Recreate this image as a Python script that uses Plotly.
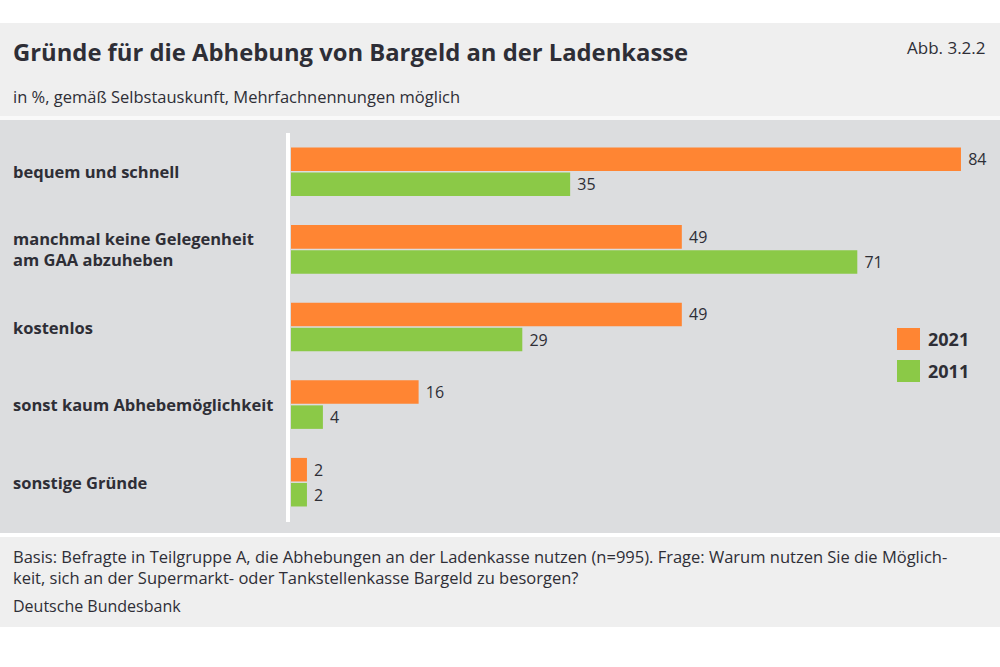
import plotly.graph_objects as go

categories = [
    "bequem und schnell",
    "manchmal keine Gelegenheit<br>am GAA abzuheben",
    "kostenlos",
    "sonst kaum Abhebemöglichkeit",
    "sonstige Gründe",
]
values_2021 = [84, 49, 49, 16, 2]
values_2011 = [35, 71, 29, 4, 2]
series_names = ["2021", "2011"]

ORANGE = "#ff8533"
GREEN = "#8bc947"
TEXT = "#2e2e36"
FONT = "Open Sans"

W, H = 1000, 667
L, R, T, B = 291, 9, 133, 146
PW, PH = W - L - R, H - T - B
SCALE = 7.976  # px per percent


def px(x):
    return (x - L) / PW


def py(y):
    return 1 - (y - T) / PH


fig = go.Figure()
fig.add_trace(go.Bar(
    y=categories, x=values_2021, name=series_names[0], orientation="h",
    marker=dict(color=ORANGE, line=dict(width=0)),
    text=values_2021, texttemplate=" %{x}", textposition="outside",
    textfont=dict(family=FONT, size=16, color=TEXT), cliponaxis=False,
    showlegend=False,
))
fig.add_trace(go.Bar(
    y=categories, x=values_2011, name=series_names[1], orientation="h",
    marker=dict(color=GREEN, line=dict(width=0)),
    text=values_2011, texttemplate=" %{x}", textposition="outside",
    textfont=dict(family=FONT, size=16, color=TEXT), cliponaxis=False,
    showlegend=False,
))

shapes = []
shapes.append(dict(type="rect", xref="paper", yref="paper", layer="below",
                   x0=px(0), x1=px(W), y0=py(23), y1=py(627),
                   fillcolor="#efefef", line=dict(width=0)))
shapes.append(dict(type="rect", xref="paper", yref="paper", layer="below",
                   x0=px(0), x1=px(W), y0=py(116), y1=py(120),
                   fillcolor="#f9f9f9", line=dict(width=0)))
shapes.append(dict(type="rect", xref="paper", yref="paper", layer="below",
                   x0=px(0), x1=px(W), y0=py(120), y1=py(533),
                   fillcolor="#dcdddf", line=dict(width=0)))
shapes.append(dict(type="rect", xref="paper", yref="paper", layer="below",
                   x0=px(0), x1=px(W), y0=py(533), y1=py(537),
                   fillcolor="#ffffff", line=dict(width=0)))
shapes.append(dict(type="rect", xref="paper", yref="paper", layer="below",
                   x0=px(286), x1=px(290), y0=py(133), y1=py(522),
                   fillcolor="#ffffff", line=dict(width=0)))
shapes.append(dict(type="rect", xref="paper", yref="paper",
                   x0=px(897), x1=px(920), y0=py(328), y1=py(350),
                   fillcolor=ORANGE, line=dict(width=0)))
shapes.append(dict(type="rect", xref="paper", yref="paper",
                   x0=px(897), x1=px(920), y0=py(360), y1=py(382),
                   fillcolor=GREEN, line=dict(width=0)))

annotations = []
for c in categories:
    annotations.append(dict(x=px(11), y=c, xref="paper", yref="y",
                            text="<b>" + c.replace("<br>", "</b><br><b>") + "</b>",
                            showarrow=False, xanchor="left", yanchor="middle",
                            align="left",
                            font=dict(family=FONT, size=16.5, color=TEXT)))
annotations.append(dict(x=px(926), y=py(339), xref="paper", yref="paper",
                        text="<b>" + series_names[0] + "</b>", showarrow=False,
                        xanchor="left", yanchor="middle",
                        font=dict(family=FONT, size=18, color=TEXT)))
annotations.append(dict(x=px(926), y=py(371), xref="paper", yref="paper",
                        text="<b>" + series_names[1] + "</b>", showarrow=False,
                        xanchor="left", yanchor="middle",
                        font=dict(family=FONT, size=18, color=TEXT)))
annotations.append(dict(x=px(11), y=py(52), xref="paper", yref="paper",
                        text="<b>Gründe für die Abhebung von Bargeld an der Ladenkasse</b>",
                        showarrow=False, xanchor="left", yanchor="middle",
                        font=dict(family=FONT, size=23.8, color=TEXT)))
annotations.append(dict(x=px(11), y=py(97), xref="paper", yref="paper",
                        text="in %, gemäß Selbstauskunft, Mehrfachnennungen möglich",
                        showarrow=False, xanchor="left", yanchor="middle",
                        font=dict(family=FONT, size=16.5, color=TEXT)))
annotations.append(dict(x=px(988), y=py(48), xref="paper", yref="paper",
                        text="Abb. 3.2.2",
                        showarrow=False, xanchor="right", yanchor="middle",
                        font=dict(family=FONT, size=17, color=TEXT)))
annotations.append(dict(x=px(11), y=py(567), xref="paper", yref="paper",
                        text="Basis: Befragte in Teilgruppe A, die Abhebungen an der Ladenkasse nutzen (n=995). Frage: Warum nutzen Sie die Möglich-<br>keit, sich an der Supermarkt- oder Tankstellenkasse Bargeld zu besorgen?",
                        showarrow=False, xanchor="left", yanchor="middle",
                        align="left",
                        font=dict(family=FONT, size=16.5, color=TEXT)))
annotations.append(dict(x=px(11), y=py(606), xref="paper", yref="paper",
                        text="Deutsche Bundesbank",
                        showarrow=False, xanchor="left", yanchor="middle",
                        font=dict(family=FONT, size=16, color=TEXT)))

fig.update_layout(
    width=W, height=H,
    margin=dict(l=L, r=R, t=T, b=B, pad=0),
    paper_bgcolor="#ffffff",
    plot_bgcolor="rgba(0,0,0,0)",
    barmode="group", bargap=0.355, bargroupgap=0.06,
    xaxis=dict(range=[0, PW / SCALE], visible=False, fixedrange=True),
    yaxis=dict(categoryorder="array", categoryarray=categories,
               autorange="reversed", showticklabels=False, showgrid=False,
               zeroline=False, showline=False, ticks=""),
    shapes=shapes, annotations=annotations,
    font=dict(family=FONT, color=TEXT),
)

fig.write_html("out.html")
